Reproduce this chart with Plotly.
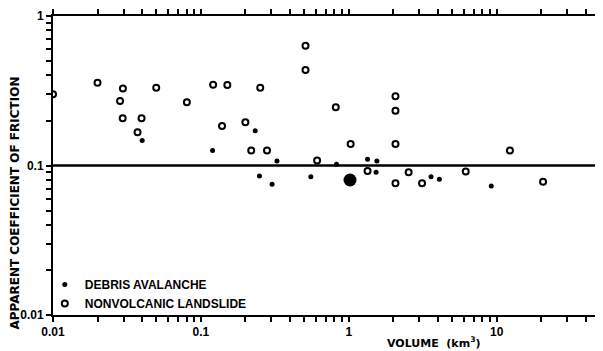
import plotly.graph_objects as go

# Debris avalanche (small filled dots)
debris_volume = [0.0401, 0.12, 0.233, 0.327, 0.249, 0.303, 0.826, 1.34, 1.55, 1.53, 0.554, 3.6, 4.1, 9.2]
debris_friction = [0.147, 0.126, 0.171, 0.107, 0.085, 0.075, 0.102, 0.110, 0.107, 0.090, 0.084, 0.084, 0.081, 0.073]

# Nonvolcanic landslides (open circles)
land_volume = [0.01, 0.02, 0.0297, 0.0284, 0.0296, 0.0397, 0.0373, 0.0499, 0.0804, 0.121,
               0.151, 0.139, 0.2, 0.252, 0.219, 0.28, 0.817, 2.07, 1.03, 2.07,
               0.611, 1.34, 2.54, 2.07, 3.13, 0.51, 0.51, 2.07, 12.3, 6.18, 20.6]
land_friction = [0.30, 0.358, 0.328, 0.27, 0.207, 0.207, 0.167, 0.331, 0.265, 0.347,
                 0.345, 0.184, 0.195, 0.331, 0.126, 0.126, 0.245, 0.232, 0.139, 0.139,
                 0.108, 0.092, 0.090, 0.076, 0.076, 0.632, 0.436, 0.29, 0.126, 0.091, 0.078]

# Highlighted event (large filled dot)
big_volume = [1.02]
big_friction = [0.080]

reference_friction = 0.1

x_major = [0.01, 0.1, 1, 10]
x_major_text = ["0.01", "0.1", "1", "10"]
y_major = [0.01, 0.1, 1]
y_major_text = ["0.01", "0.1", "1"]

def log_ticks(majors, labels, upper):
    vals, texts = [], []
    for m, lab in zip(majors, labels):
        for k in range(1, 10):
            v = m * k
            if v <= upper * 1.0001:
                vals.append(v)
                texts.append(lab if k == 1 else "")
    return vals, texts

xt_vals, xt_text = log_ticks(x_major, x_major_text, 50)
yt_vals, yt_text = log_ticks(y_major, y_major_text, 1)

FONT = "Liberation Sans"
TFONT = "DejaVu Sans"

fig = go.Figure()
fig.add_trace(go.Scatter(
    x=debris_volume, y=debris_friction, mode="markers", name="DEBRIS AVALANCHE",
    marker=dict(symbol="circle", size=5, color="black"),
))
fig.add_trace(go.Scatter(
    x=land_volume, y=land_friction, mode="markers", name="NONVOLCANIC LANDSLIDE",
    marker=dict(symbol="circle-open", size=6, color="black", line=dict(width=2, color="black")),
))
fig.add_trace(go.Scatter(
    x=big_volume, y=big_friction, mode="markers", showlegend=False,
    marker=dict(symbol="circle", size=13, color="black"),
))

fig.add_shape(type="line", xref="paper", x0=0, x1=1, yref="y",
              y0=reference_friction, y1=reference_friction,
              line=dict(color="black", width=2.5))

fig.update_xaxes(
    type="log", range=[-2, 1.699], automargin=False,
    tickvals=xt_vals, ticktext=xt_text,
    ticks="outside", ticklen=5, tickwidth=1.5, tickcolor="black",
    showline=True, linecolor="black", linewidth=2, mirror="ticks",
    showgrid=False, zeroline=False,
    tickfont=dict(family=FONT, size=12, color="black", weight="bold"),
)
fig.update_yaxes(
    type="log", range=[-2, 0], automargin=False,
    tickvals=yt_vals, ticktext=yt_text,
    ticks="outside", ticklen=5, tickwidth=1.5, tickcolor="black",
    showline=True, linecolor="black", linewidth=2, mirror=True,
    showgrid=False, zeroline=False,
    tickfont=dict(family=FONT, size=12, color="black", weight="bold"),
)

fig.add_annotation(
    text="VOLUME  (km<sup>3</sup>)", xref="paper", yref="paper",
    x=0.697, y=-0.06, xanchor="center", yanchor="top", showarrow=False,
    font=dict(family=TFONT, size=11, color="black", weight="bold"),
)
fig.add_annotation(
    text="APPARENT COEFFICIENT OF FRICTION", xref="paper", yref="paper",
    x=-0.07, y=0.375, xanchor="center", yanchor="middle", showarrow=False,
    textangle=-90,
    font=dict(family=TFONT, size=12, color="black", weight="bold"),
)

# The page body has an 8px margin, so the figure is sized to fit the 603x351 window.
fig.update_layout(
    width=595, height=343,
    margin=dict(l=45, r=3, t=8, b=36, autoexpand=False),
    paper_bgcolor="white", plot_bgcolor="white",
    legend=dict(
        x=-0.015, y=-0.01, xanchor="left", yanchor="bottom",
        bgcolor="rgba(0,0,0,0)", tracegroupgap=0, itemwidth=30,
        font=dict(family=FONT, size=12, color="black", weight="bold"),
    ),
)

fig.write_html("out.html")
